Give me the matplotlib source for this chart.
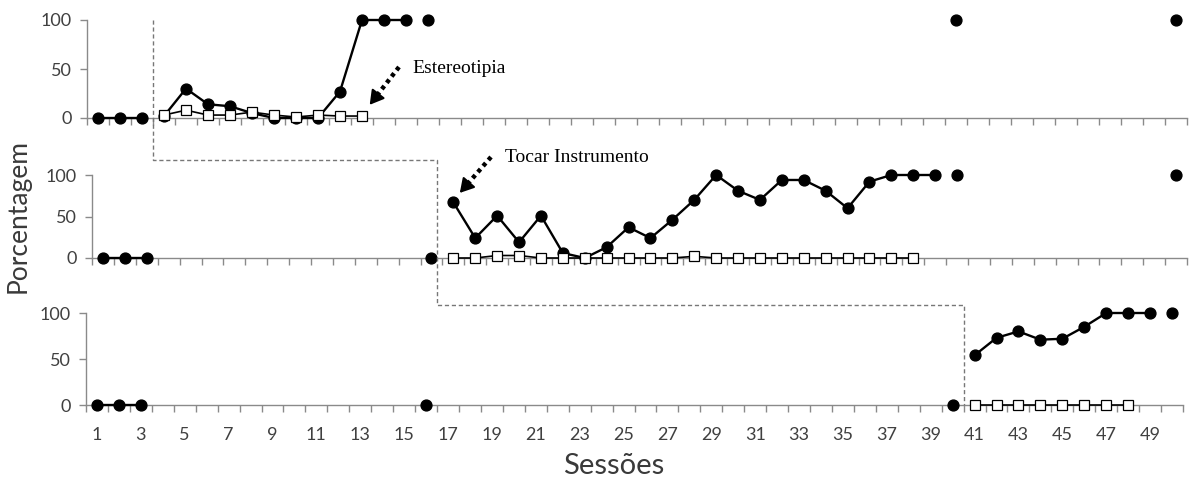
import numpy as np
import matplotlib
matplotlib.use("Agg")
import matplotlib.pyplot as plt

# ---------------- data ----------------
# Top panel
top_base_x = [1, 2, 3]
top_base_y = [0, 0, 0]
top_int_x = [4, 5, 6, 7, 8, 9, 10, 11, 12, 13, 14, 15]
top_int_y = [2, 30, 14, 12, 5, 0, 0, 0, 27, 100, 100, 100]
top_fu_x = [16, 40, 50]
top_fu_y = [100, 100, 100]
top_sq_x = [4, 5, 6, 7, 8, 9, 10, 11, 12, 13]
top_sq_y = [3, 8, 3, 3, 6, 3, 1, 3, 2, 2]

# Middle panel
mid_base_x = [1, 2, 3]
mid_base_y = [0, 0, 0]
mid_pre_x = [16]
mid_pre_y = [0]
mid_int_x = list(range(17, 40))
mid_int_y = [67, 24, 51, 19, 51, 6, 0, 13, 37, 24, 46, 70, 100, 81, 70, 94,
             94, 81, 60, 92, 100, 100, 100]
mid_fu_x = [40, 50]
mid_fu_y = [100, 100]
mid_sq_x = list(range(17, 39))
mid_sq_y = [0, 0, 3, 3, 0, 0, 0, 0, 0, 0, 0, 2, 0, 0, 0, 0, 0, 0, 0, 0, 0, 0]

# Bottom panel
bot_base_x = [1, 2, 3]
bot_base_y = [0, 0, 0]
bot_pre_x = [16, 40]
bot_pre_y = [0, 0]
bot_int_x = [41, 42, 43, 44, 45, 46, 47, 48, 49]
bot_int_y = [54, 73, 80, 71, 72, 85, 100, 100, 100]
bot_fu_x = [50]
bot_fu_y = [100]
bot_sq_x = [41, 42, 43, 44, 45, 46, 47, 48]
bot_sq_y = [0, 0, 0, 0, 0, 0, 0, 0]

x_tick_labels = [str(i) for i in range(1, 50, 2)]
y_ticks = [0, 50, 100]

# ---------------- figure ----------------
W, H = 1193, 483
fig = plt.figure(figsize=(W / 100, H / 100), dpi=100)

def px_rect(x0, x1, y_top, y_bot):
    return [x0 / W, 1 - y_bot / H, (x1 - x0) / W, (y_bot - y_top) / H]

ax_top = fig.add_axes(px_rect(87, 1187, 20, 118))
ax_mid = fig.add_axes(px_rect(92, 1187, 175, 258))
ax_bot = fig.add_axes(px_rect(86, 1183, 313, 405))

axis_col = "#8a8a8a"
lab_col = "#404040"
font_sans = ["Lato", "DejaVu Sans"]

circ = dict(marker="o", ms=7.8, color="black", mfc="black", mec="black",
            lw=1.7, clip_on=False, zorder=3)
circ_pt = dict(marker="o", ms=7.8, ls="none", mfc="black", mec="black",
               clip_on=False, zorder=3)
sq = dict(marker="s", ms=7, color="black", mfc="white", mec="black",
          mew=0.9, lw=1.2, clip_on=False, zorder=4)

def style(ax, show_labels):
    ax.set_xlim(0.5, 50.5)
    ax.set_ylim(0, 100)
    for s in ("top", "right"):
        ax.spines[s].set_visible(False)
    for s in ("left", "bottom"):
        ax.spines[s].set_color(axis_col)
        ax.spines[s].set_linewidth(1.0)
    ax.set_yticks(y_ticks)
    ax.set_yticklabels([str(v) for v in y_ticks], fontfamily=font_sans,
                       fontsize=13, color=lab_col)
    ax.tick_params(axis="y", length=5, width=1, color=axis_col, pad=6)
    ax.set_xticks(np.arange(1, 50, 2))
    if show_labels:
        ax.set_xticklabels(x_tick_labels, fontfamily=font_sans, fontsize=13,
                           color=lab_col)
    else:
        ax.set_xticklabels([])
    ax.set_xticks(np.arange(0.5, 51, 1), minor=True)
    ax.tick_params(axis="x", which="major", length=0, pad=16)
    ax.tick_params(axis="x", which="minor", length=5, width=1, color=axis_col,
                   direction="out")
    ax.patch.set_alpha(0)

for ax, lab in ((ax_top, False), (ax_mid, False), (ax_bot, True)):
    style(ax, lab)

# top
ax_top.plot(top_base_x, top_base_y, **circ)
ax_top.plot(top_int_x, top_int_y, **circ)
ax_top.plot(top_fu_x, top_fu_y, **circ_pt)
ax_top.plot(top_sq_x, top_sq_y, **sq)
# middle
ax_mid.plot(mid_base_x, mid_base_y, **circ)
ax_mid.plot(mid_pre_x, mid_pre_y, **circ_pt)
ax_mid.plot(mid_int_x, mid_int_y, **circ)
ax_mid.plot(mid_fu_x, mid_fu_y, **circ_pt)
ax_mid.plot(mid_sq_x, mid_sq_y, **sq)
# bottom
ax_bot.plot(bot_base_x, bot_base_y, **circ)
ax_bot.plot(bot_pre_x, bot_pre_y, **circ_pt)
ax_bot.plot(bot_int_x, bot_int_y, **circ)
ax_bot.plot(bot_fu_x, bot_fu_y, **circ_pt)
ax_bot.plot(bot_sq_x, bot_sq_y, **sq)

# phase-change line -> figure coords
inv = fig.transFigure.inverted()
def to_fig(ax, x, y):
    return inv.transform(ax.transData.transform((x, y)))

pts = [to_fig(ax_top, 3.5, 100), to_fig(ax_mid, 3.5, 118),
       to_fig(ax_bot, 16.5, 118), to_fig(ax_bot, 16.5, 109),
       to_fig(ax_bot, 40.5, 109), to_fig(ax_bot, 40.5, 0)]
p = np.array(pts)
p[1, 0] = p[0, 0]
p[2, 1] = p[1, 1]
fig.add_artist(plt.Line2D(p[:, 0], p[:, 1], transform=fig.transFigure,
                          color="#777777", lw=1.0, ls=(0, (3, 2)), zorder=1))

def dotted_arrow(tail, head):
    hx, hy = head
    tx, ty = tail
    v = np.array([hx - tx, hy - ty], float)
    L = np.hypot(*v)
    u = v / L
    shaft_end = (hx - u[0] * 9, hy - u[1] * 9)
    fig.add_artist(plt.Line2D([tx / W, shaft_end[0] / W],
                              [1 - ty / H, 1 - shaft_end[1] / H],
                              transform=fig.transFigure, color="black",
                              lw=3.2, ls=(0, (0.9, 0.9))))
    start = (hx - u[0] * 12, hy - u[1] * 12)
    fig.add_artist(matplotlib.patches.FancyArrowPatch(
        (start[0] / W, 1 - start[1] / H), (hx / W, 1 - hy / H),
        transform=fig.transFigure, arrowstyle="-|>,head_length=0.6,head_width=0.35",
        mutation_scale=14, color="black", lw=1.5))

dotted_arrow((399, 67), (368, 107))
dotted_arrow((491, 157), (458, 195))

fig.text(412 / W, 1 - 69 / H, "Estereotipia", fontfamily="Liberation Serif",
         fontsize=14, va="center", ha="left", color="black")
fig.text(505 / W, 1 - 158 / H, "Tocar Instrumento", fontfamily="Liberation Serif",
         fontsize=14, va="center", ha="left", color="black")

fig.text(18 / W, 1 - 216 / H, "Porcentagem", rotation=90, fontfamily=font_sans,
         fontsize=19, va="center", ha="center", color="#3a3a3a")
fig.text(614 / W, 1 - 466 / H, "Sessões", fontfamily=font_sans, fontsize=21,
         va="center", ha="center", color="#3a3a3a")

fig.savefig("out.png", dpi=100)
